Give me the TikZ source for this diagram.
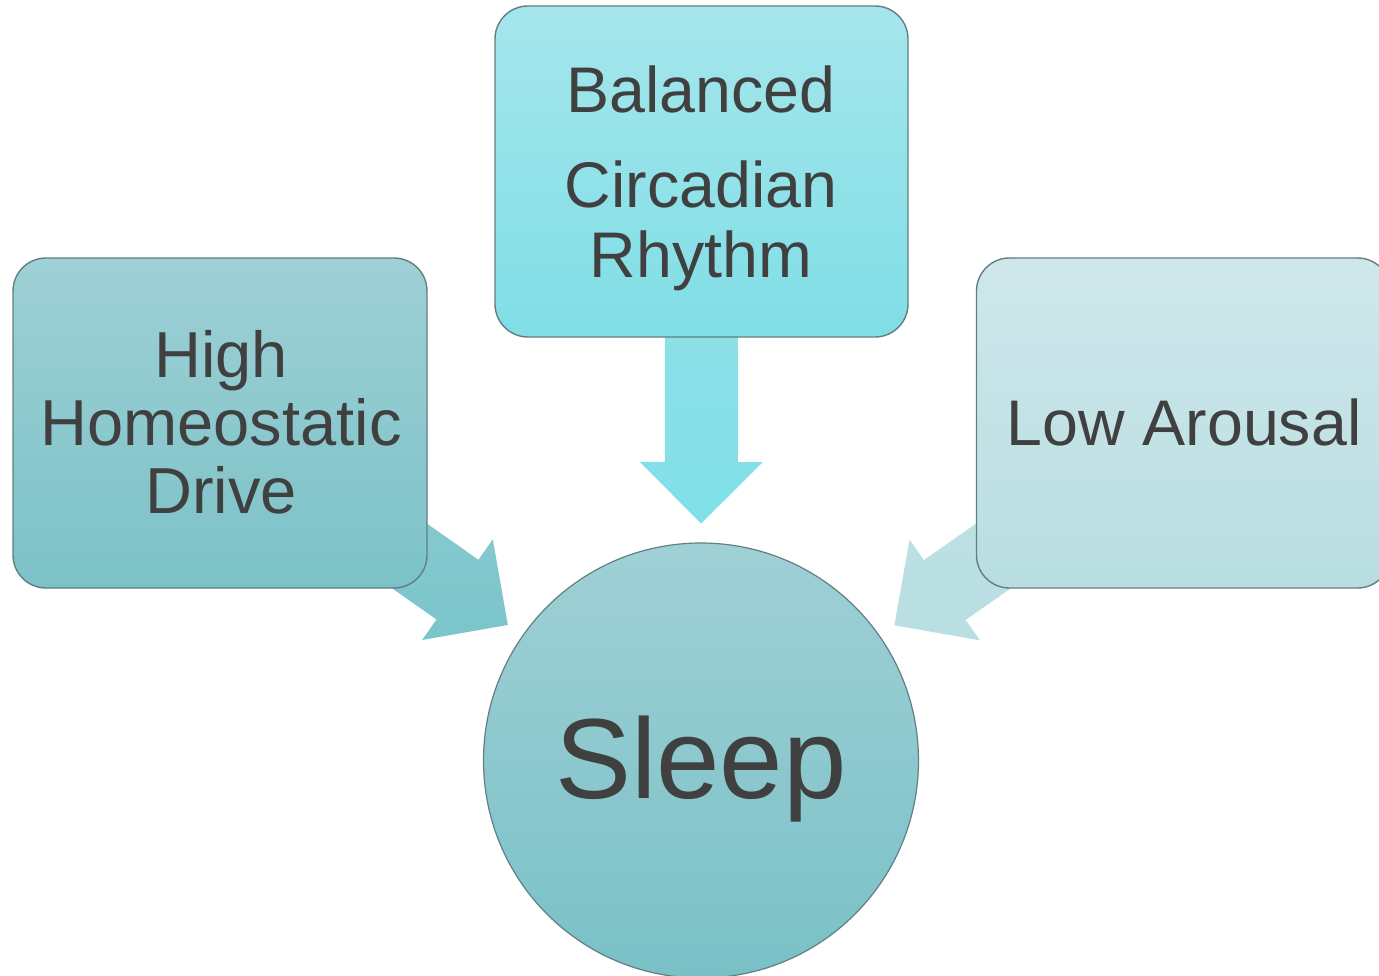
\documentclass[tikz,border=0pt]{standalone}
\usepackage{fontspec}
\setmainfont{Liberation Sans}
\usetikzlibrary{calc}

\definecolor{ink}{HTML}{404040}
\definecolor{edgegray}{HTML}{627F82}
\definecolor{hdTop}{HTML}{9ED0D5}
\definecolor{hdBot}{HTML}{7BC2C7}
\definecolor{crTop}{HTML}{A5E6EC}
\definecolor{crBot}{HTML}{80DEE6}
\definecolor{laTop}{HTML}{CFE7EB}
\definecolor{laBot}{HTML}{B8DEE2}
\definecolor{slTop}{HTML}{9FD0D5}
\definecolor{slBot}{HTML}{79C1C7}
\definecolor{hdArrTop}{HTML}{8ECCD1}
\definecolor{hdArrBot}{HTML}{7BC5CB}
\definecolor{crArrTop}{HTML}{97E1E7}
\definecolor{crArrBot}{HTML}{80E0E8}
\definecolor{laArrTop}{HTML}{C2E2E5}
\definecolor{laArrBot}{HTML}{B8DFE2}

\pgfdeclarelayer{paper}
\pgfdeclarelayer{flow}
\pgfsetlayers{paper,flow,main}

% block arrow: #1 shading style, #2 tail coordinate, #3 tip coordinate
\newcommand\flowarrow[3]{%
  \coordinate (#3-hb) at ($(#3)!61.5pt!(#2)$);
  \shade[#1] ($(#2)!36.5pt!-90:(#3)$)
    -- ($(#3-hb)!36.5pt!90:(#2)$)
    -- ($(#3-hb)!61.5pt!90:(#2)$)
    -- (#3)
    -- ($(#3-hb)!61.5pt!-90:(#2)$)
    -- ($(#3-hb)!36.5pt!-90:(#2)$)
    -- ($(#2)!36.5pt!90:(#3)$) -- cycle;}

\begin{document}
\begin{tikzpicture}[x=1pt,y=-1pt,
  panel/.style={rectangle, rounded corners=33pt, draw=edgegray, line width=1.4pt,
    minimum width=414pt, minimum height=330pt, inner sep=0pt},
  boxtext/.style={text=ink, align=center, inner sep=0pt,
    font=\fontsize{65}{68}\selectfont},
]
\begin{pgfonlayer}{paper}
  \fill[white] (0,0) rectangle (1379,976);
\end{pgfonlayer}
\useasboundingbox (0,0) rectangle (1379,976);

% factor boxes
\node[panel, top color=hdTop, bottom color=hdBot] (hd) at (220,423) {};
\node[panel, top color=crTop, bottom color=crBot, minimum width=413pt, minimum height=331pt] (cr) at (701.5,171.5) {};
\node[panel, top color=laTop, bottom color=laBot] (la) at (1183.5,423) {};

% outcome circle
\node[circle, draw=edgegray, line width=1.2pt, top color=slTop, bottom color=slBot,
  minimum size=435pt, inner sep=0pt] (sleep) at (701,760.5) {};

% texts
\node[boxtext] (hdtext) at (221,422) {High\\Homeostatic\\Drive};
\node[boxtext, font=\fontsize{64.5}{70}\selectfont] (crtext) at (701,178) {Balanced\\[25pt]Circadian\\Rhythm};
\node[boxtext, font=\fontsize{64.5}{68}\selectfont] (latext) at (1184,422) {Low Arousal};
\node[text=ink, inner sep=0pt, font=\fontsize{114}{120}\selectfont] (sltext) at (701,769) {Sleep};

% arrows into the circle, drawn beneath the boxes
\begin{pgfonlayer}{flow}
  \coordinate (hdtip) at ($(sleep.center)!236pt!(hd.center)$);
  \coordinate (crtip) at ($(sleep.center)!237pt!(cr.center)$);
  \coordinate (latip) at ($(sleep.center)!236pt!(la.center)$);
  \flowarrow{top color=hdArrTop, bottom color=hdArrBot}{hd.center}{hdtip}
  \flowarrow{top color=crArrTop, bottom color=crArrBot}{cr.center}{crtip}
  \flowarrow{top color=laArrTop, bottom color=laArrBot}{la.center}{latip}
\end{pgfonlayer}
\end{tikzpicture}
\end{document}
